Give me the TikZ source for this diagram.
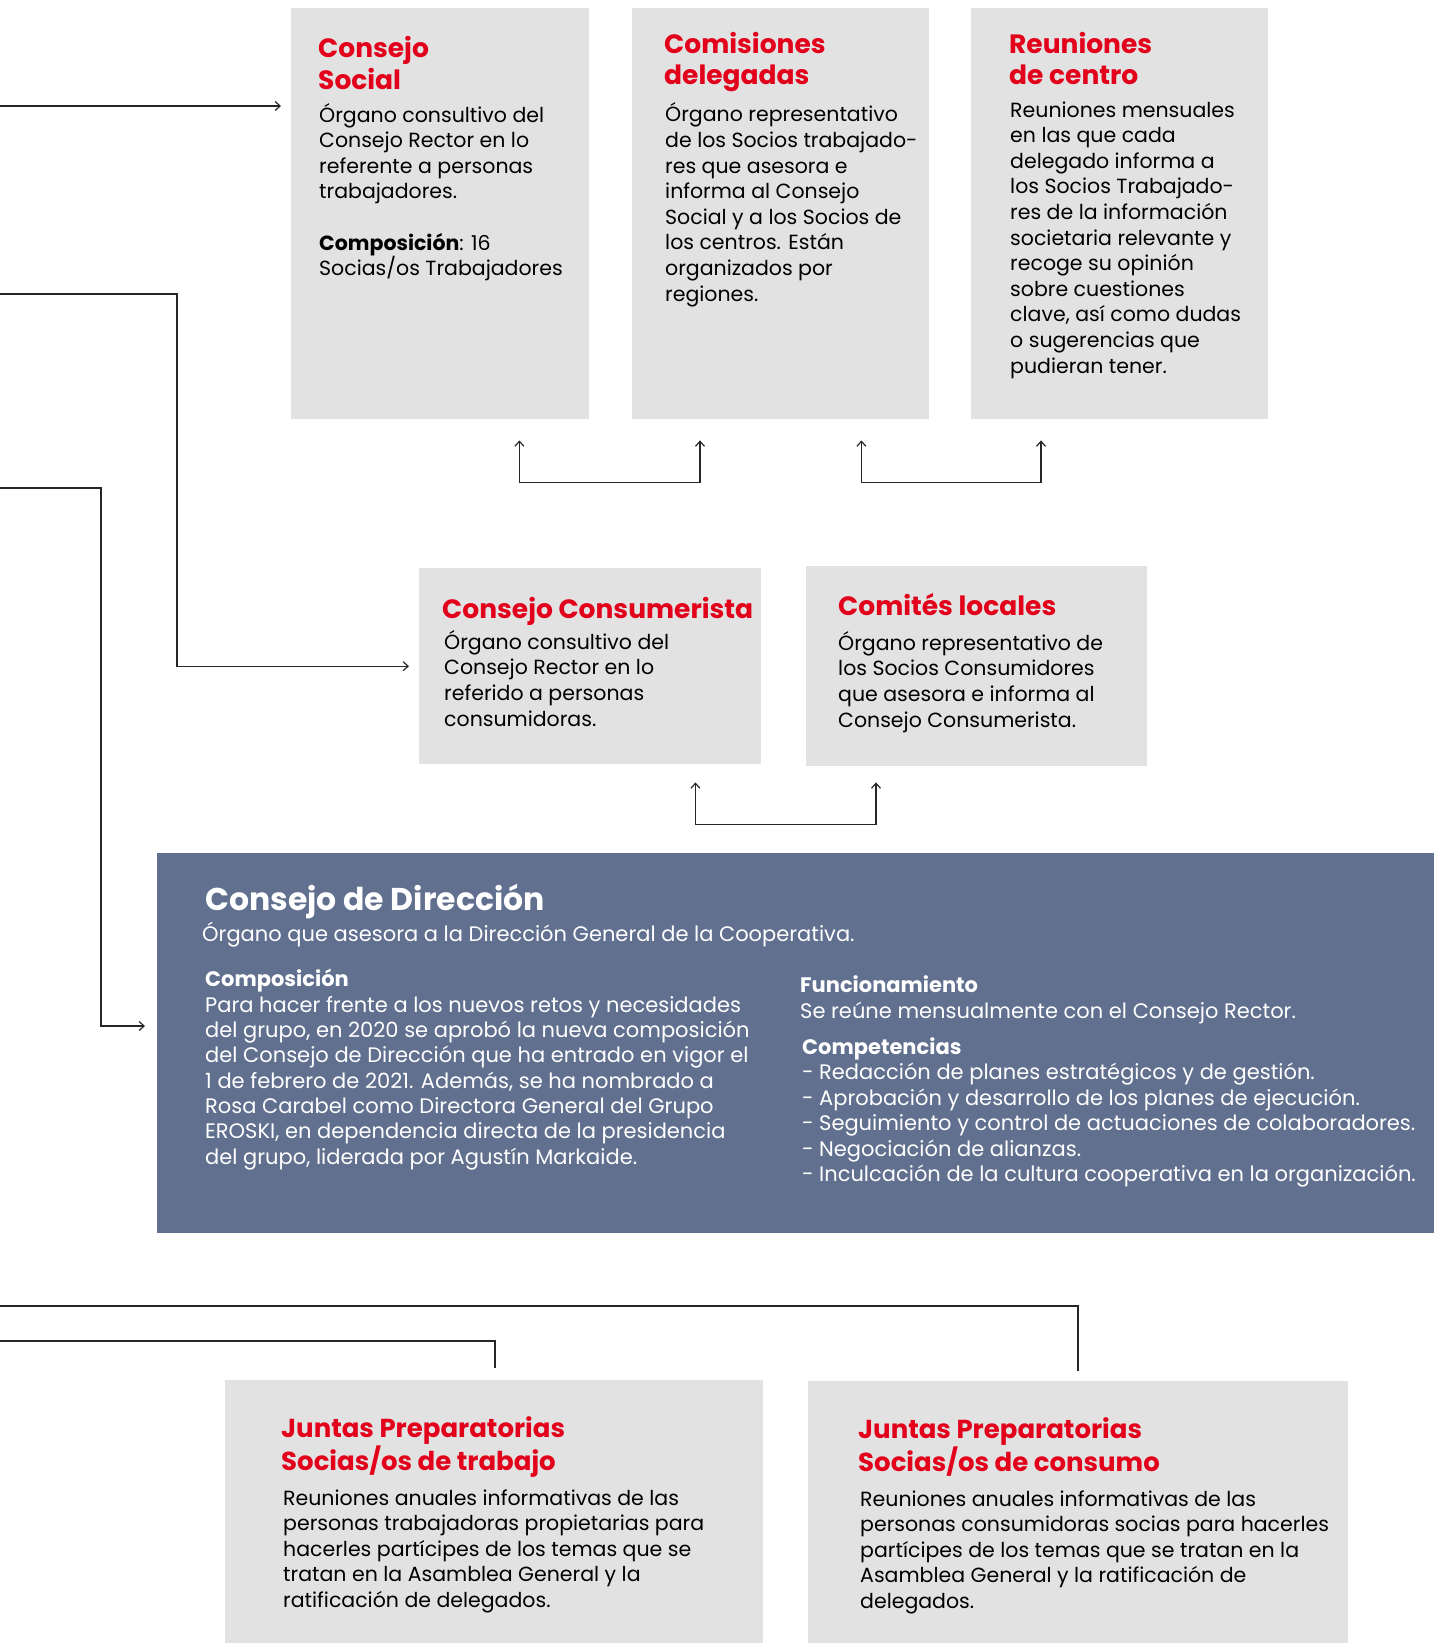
\documentclass[tikz,border=0pt]{standalone}
\usepackage{fontspec}
\setmainfont{Poppins}
\usepackage{xcolor}
\usetikzlibrary{arrows.meta,calc}

\definecolor{eroRed}{HTML}{E2001A}
\definecolor{boxGrey}{HTML}{E1E2E1}
\definecolor{dirBlue}{HTML}{61708F}
\definecolor{lineGrey}{HTML}{262626}

\tikzset{
  greybox/.style={fill=boxGrey, draw=none, inner sep=0pt, anchor=north west},
  headtxt/.style={anchor=base west, inner sep=0pt, align=left, text=eroRed,
    font=\bfseries\fontsize{26.5}{32}\selectfont},
  bodytxt/.style={anchor=base west, inner sep=0pt, align=left,
    font=\fontsize{20.5}{25.6}\selectfont},
  dirtxt/.style={bodytxt, text=white, font=\fontsize{21}{25.3}\selectfont},
  link/.style={draw=lineGrey, line width=1.2pt},
  arr/.style={link, -{Straight Barb[length=5pt,width=9pt]}},
  dblarr/.style={link, {Straight Barb[length=5pt,width=9pt]}-{Straight Barb[length=5pt,width=9pt]}},
}

\begin{document}
\begin{tikzpicture}[x=1pt,y=1pt,yscale=-1,xscale=1]
    \useasboundingbox (0,0) rectangle (1434,1643);
    % top row of boxes (text nodes sit on the baseline of their last line)
    \node[greybox, minimum width=298pt, minimum height=411pt] (social) at (291,8) {};
    \node[greybox, minimum width=297pt, minimum height=411pt] (comisiones) at (632,8) {};
    \node[greybox, minimum width=297pt, minimum height=411pt] (reuniones) at (971,8) {};
    \node[headtxt] (socialH) at (318,90) {Consejo\\Social};
    \node[bodytxt] (socialB) at (319,275.6) {Órgano consultivo del\\Consejo Rector en lo\\referente a personas\\trabajadores.\\[25.6pt]\textbf{Composición}: 16\\Socias/os Trabajadores};
    \node[headtxt] (comisionesH) at (664,85) {Comisiones\\delegadas};
    \node[bodytxt] (comisionesB) at (665,301) {Órgano representativo\\de los Socios trabajado-\\res que asesora e\\informa al Consejo\\Social y a los Socios de\\los centros. Están\\organizados por\\regiones.};
    \node[headtxt] (reunionesH) at (1009,85) {Reuniones\\de centro};
    \node[bodytxt] (reunionesB) at (1010,373) {Reuniones mensuales\\en las que cada\\delegado informa a\\los Socios Trabajado-\\res de la información\\societaria relevante y\\recoge su opinión\\sobre cuestiones\\clave, así como dudas\\o sugerencias que\\pudieran tener.};
    % middle row of boxes
    \node[greybox, minimum width=342pt, minimum height=196pt] (consumerista) at (419,568) {};
    \node[greybox, minimum width=341pt, minimum height=200pt] (comites) at (806,566) {};
    \node[headtxt] (consumeristaH) at (442,618) {Consejo Consumerista};
    \node[bodytxt] (consumeristaB) at (444,726) {Órgano consultivo del\\Consejo Rector en lo\\referido a personas\\consumidoras.};
    \node[headtxt] (comitesH) at (838,615) {Comités locales};
    \node[bodytxt] (comitesB) at (838,727) {Órgano representativo de\\los Socios Consumidores\\que asesora e informa al\\Consejo Consumerista.};
    % consejo de direccion
    \node[greybox, fill=dirBlue, minimum width=1277pt, minimum height=380pt] (direccion) at (157,853) {};
    \node[dirtxt, font=\bfseries\fontsize{31.5}{36}\selectfont] (direccionH) at (205,910) {Consejo de Dirección};
    \node[dirtxt] (direccionS) at (202,941) {Órgano que asesora a la Dirección General de la Cooperativa.};
    \node[dirtxt] (composicion) at (205,1164) {\textbf{Composición}\\Para hacer frente a los nuevos retos y necesidades\\del grupo, en 2020 se aprobó la nueva composición\\del Consejo de Dirección que ha entrado en vigor el\\1 de febrero de 2021. Además, se ha nombrado a\\Rosa Carabel como Directora General del Grupo\\EROSKI, en dependencia directa de la presidencia\\del grupo, liderada por Agustín Markaide.};
    \node[dirtxt, font=\fontsize{21}{26}\selectfont] (funcionamiento) at (800,1018) {\textbf{Funcionamiento}\\Se reúne mensualmente con el Consejo Rector.};
    \node[dirtxt, font=\fontsize{21}{25.5}\selectfont] (competencias) at (802,1181.5) {\textbf{Competencias}\\\makebox[17pt][l]{-}Redacción de planes estratégicos y de gestión.\\\makebox[17pt][l]{-}Aprobación y desarrollo de los planes de ejecución.\\\makebox[17pt][l]{-}Seguimiento y control de actuaciones de colaboradores.\\\makebox[17pt][l]{-}Negociación de alianzas.\\\makebox[17pt][l]{-}Inculcación de la cultura cooperativa en la organización.};
    % juntas preparatorias
    \node[greybox, minimum width=538pt, minimum height=263pt] (jtrabajo) at (225,1380) {};
    \node[greybox, minimum width=540pt, minimum height=262pt] (jconsumo) at (808,1381) {};
    \node[headtxt, font=\bfseries\fontsize{26}{33}\selectfont] (jtrabajoH) at (281,1470) {Juntas Preparatorias\\Socias/os de trabajo};
    \node[bodytxt] (jtrabajoB) at (283,1607.4) {Reuniones anuales informativas de las\\personas trabajadoras propietarias para\\hacerles partícipes de los temas que se\\tratan en la Asamblea General y la\\ratificación de delegados.};
    \node[headtxt, font=\bfseries\fontsize{26}{33}\selectfont] (jconsumoH) at (858,1471) {Juntas Preparatorias\\Socias/os de consumo};
    \node[bodytxt] (jconsumoB) at (860,1608.4) {Reuniones anuales informativas de las\\personas consumidoras socias para hacerles\\partícipes de los temas que se tratan en la\\Asamblea General y la ratificación de\\delegados.};
    % connectors from the left edge
    \coordinate (rectorA) at (0,106);
    \coordinate (rectorB) at (0,294);
    \coordinate (bendB) at (177,294);
    \coordinate (rectorC) at (0,488);
    \coordinate (bendC) at (101,488);
    \coordinate (socioC) at (0,1306);
    \coordinate (socioT) at (0,1341);
    \draw[arr] (rectorA) -- ($(social.west |- rectorA)+(-10,0)$);
    \draw[arr] (rectorB) -- (bendB) |- ($(consumerista.west)+(-10,0)$);
    \draw[arr] (rectorC) -- (bendC) |- ($(direccion.north west)+(-12,173)$);
    \draw[link] (socioC) -| ($(jconsumo.north west)+(270,-10)$);
    \draw[link] (socioT) -| ($(jtrabajo.north west)+(270,-12)$);
    % brackets between neighbouring boxes
    \coordinate (brA1) at ($(social.south east)+(-70,21)$);
    \coordinate (brA2) at ($(comisiones.south west)+(68,21)$);
    \coordinate (brB1) at ($(comisiones.south east)+(-68,21)$);
    \coordinate (brB2) at ($(reuniones.south west)+(70,21)$);
    \coordinate (brC1) at ($(consumerista.south east)+(-66,18)$);
    \coordinate (brC2) at ($(comites.south west)+(70,16)$);
    \draw[dblarr] (brA1) -- ++(0,42) -| (brA2);
    \draw[dblarr] (brB1) -- ++(0,42) -| (brB2);
    \draw[dblarr] (brC1) -- ++(0,42) -| (brC2);
\end{tikzpicture}
\end{document}
